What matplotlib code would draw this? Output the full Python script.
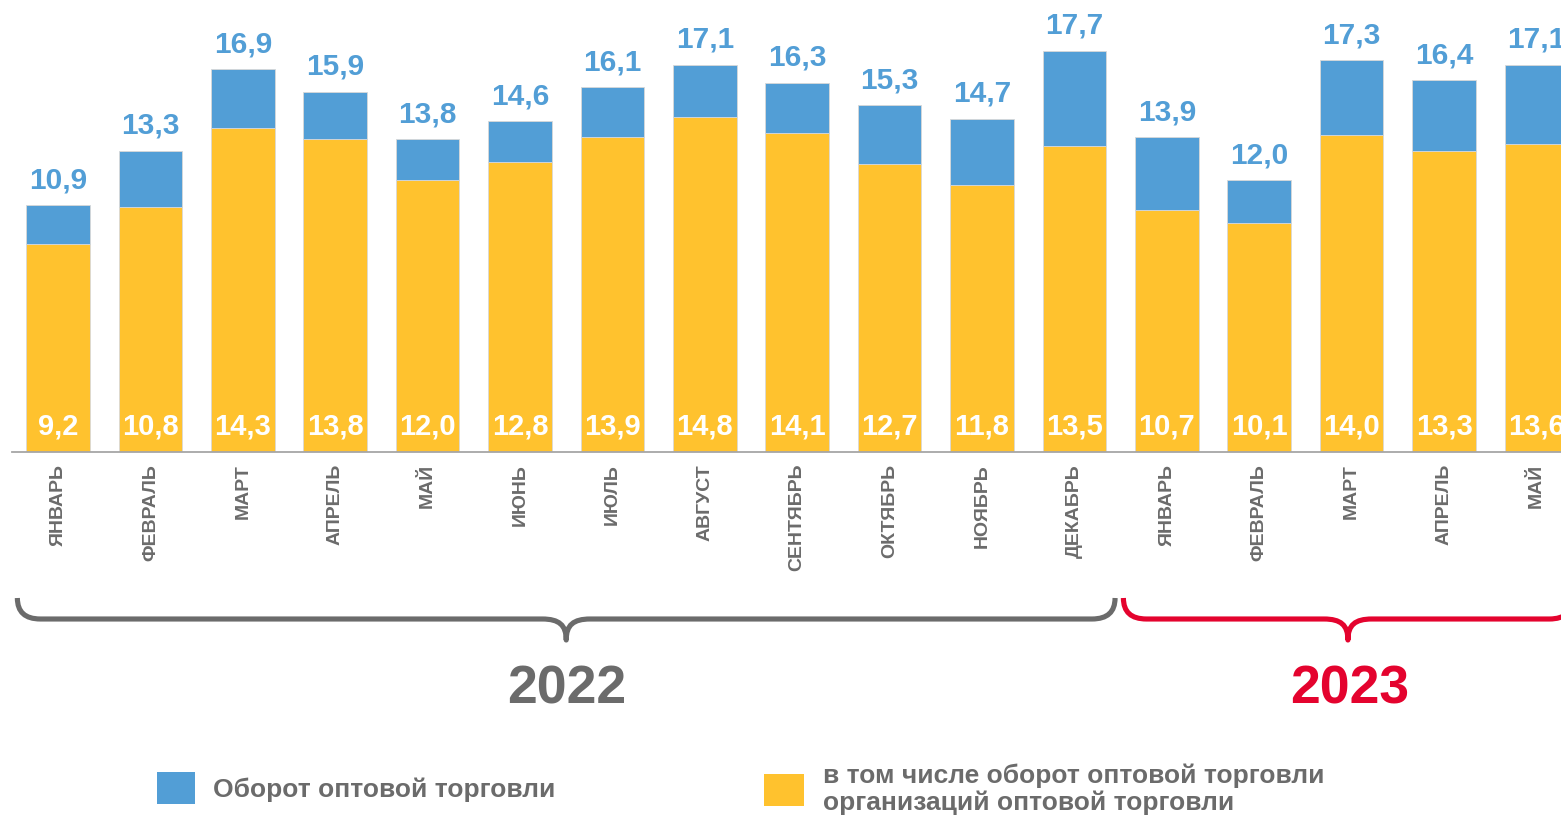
import matplotlib
matplotlib.use("Agg")
import matplotlib.pyplot as plt
from matplotlib.path import Path
from matplotlib.patches import PathPatch, Patch

plt.rcParams['font.family'] = ['Liberation Sans', 'DejaVu Sans']

months = ["ЯНВАРЬ", "ФЕВРАЛЬ", "МАРТ", "АПРЕЛЬ", "МАЙ", "ИЮНЬ", "ИЮЛЬ", "АВГУСТ",
          "СЕНТЯБРЬ", "ОКТЯБРЬ", "НОЯБРЬ", "ДЕКАБРЬ",
          "ЯНВАРЬ", "ФЕВРАЛЬ", "МАРТ", "АПРЕЛЬ", "МАЙ"]
total = [10.9, 13.3, 16.9, 15.9, 13.8, 14.6, 16.1, 17.1, 16.3, 15.3, 14.7, 17.7,
         13.9, 12.0, 17.3, 16.4, 17.1]
org = [9.2, 10.8, 14.3, 13.8, 12.0, 12.8, 13.9, 14.8, 14.1, 12.7, 11.8, 13.5,
       10.7, 10.1, 14.0, 13.3, 13.6]
years = ["2022", "2023"]
legend_labels = ["Оборот оптовой торговли",
                 "в том числе оборот оптовой торговли\nорганизаций оптовой торговли"]

BLUE = "#529ED6"
YELLOW = "#FFC22E"
BLUE_TXT = "#529ED6"
GRAY = "#6B6B6B"
RED = "#E4032E"

W, H = 1561, 815
fig = plt.figure(figsize=(W / 100, H / 100), dpi=100)
ax = fig.add_axes([12 / W, (H - 452) / H, (W - 12) / W, 452 / H])

x = list(range(len(months)))
upper = [t - o for t, o in zip(total, org)]
ax.bar(x, org, width=0.69, color=YELLOW, edgecolor="#d8d8d8", linewidth=0.6, zorder=2)
ax.bar(x, upper, bottom=org, width=0.69, color=BLUE, edgecolor="#d8d8d8", linewidth=0.6, zorder=2)

ax.set_xlim(-0.498, 16.266)
ax.set_ylim(0, 19.95)
for s in ["top", "left", "right"]:
    ax.spines[s].set_visible(False)
ax.spines["bottom"].set_color("#a6a6a6")
ax.spines["bottom"].set_linewidth(1.3)
ax.set_yticks([])
ax.set_xticks(x)
ax.set_xticklabels(months, rotation=90, fontsize=14, fontweight="bold", color=GRAY)
ax.tick_params(axis="x", length=0, pad=8.5)

def fmt(v):
    return f"{v:.1f}".replace(".", ",")

for xi, t, o in zip(x, total, org):
    ax.annotate(fmt(t), (xi, t), xytext=(0, 18), textcoords="offset points",
                ha="center", va="center", fontsize=21.5, fontweight="bold",
                color=BLUE_TXT, annotation_clip=False, zorder=3)
    ax.text(xi, 1.12, fmt(o), ha="center", va="center", fontsize=21,
            fontweight="bold", color="white", zorder=3)

# overlay in pixel coordinates for braces
ov = fig.add_axes([0, 0, 1, 1])
ov.set_xlim(0, W)
ov.set_ylim(H, 0)
ov.axis("off")
ov.patch.set_visible(False)

def px(xd):
    return ax.transData.transform((xd, 0))[0]

def brace(x0, x1, xm, color):
    yT, yL, yB, r, rc = 598, 619, 640, 23, 24
    verts = [(x0, yT), (x0, yL), (x0 + r, yL),
             (xm - rc, yL),
             (xm - rc * 0.3, yL), (xm, yL + 6), (xm, yB),
             (xm, yL + 6), (xm + rc * 0.3, yL), (xm + rc, yL),
             (x1 - r, yL),
             (x1, yL), (x1, yT)]
    codes = [Path.MOVETO, Path.CURVE3, Path.CURVE3,
             Path.LINETO,
             Path.CURVE4, Path.CURVE4, Path.CURVE4,
             Path.CURVE4, Path.CURVE4, Path.CURVE4,
             Path.LINETO,
             Path.CURVE3, Path.CURVE3]
    ov.add_patch(PathPatch(Path(verts, codes), facecolor="none", edgecolor=color,
                           linewidth=3.7, capstyle="butt", joinstyle="round"))

g0, g1 = px(-0.44), px(11.44)
brace(g0, g1, (g0 + g1) / 2, GRAY)
r0, r1 = px(11.53), px(16.39)
brace(r0, r1, (r0 + r1) / 2, RED)

ov.text((g0 + g1) / 2, 689, years[0], ha="center", va="center", fontsize=38.5,
        fontweight="bold", color=GRAY)
ov.text((r0 + r1) / 2 + 2, 689, years[1], ha="center", va="center", fontsize=38.5,
        fontweight="bold", color=RED)

# legends
leg1 = fig.legend(handles=[Patch(facecolor=BLUE)], labels=[legend_labels[0]],
                  loc="center left", bbox_to_anchor=(157 / W, (H - 788) / H),
                  frameon=False, handlelength=1.44, handleheight=1.44,
                  handletextpad=0.7, borderpad=0, borderaxespad=0,
                  prop={"weight": "bold", "size": 19})
for t in leg1.get_texts():
    t.set_color(GRAY)
leg2 = fig.legend(handles=[Patch(facecolor=YELLOW)], labels=[legend_labels[1]],
                  loc="center left", bbox_to_anchor=(764 / W, (H - 789) / H),
                  frameon=False, handlelength=1.5, handleheight=1.5,
                  handletextpad=0.75, borderpad=0, borderaxespad=0,
                  prop={"weight": "bold", "size": 19})
for t in leg2.get_texts():
    t.set_color(GRAY)
    t.set_linespacing(1.12)

fig.savefig("out.png", dpi=100)
